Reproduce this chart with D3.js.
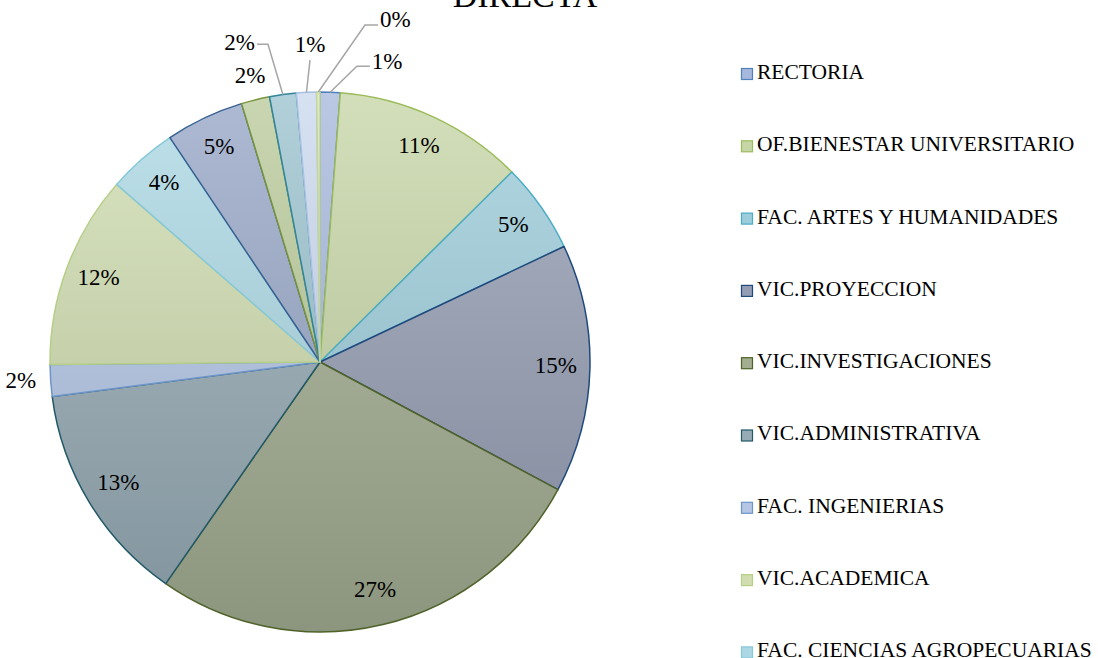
<!DOCTYPE html>
<html>
<head>
<meta charset="utf-8">
<script src="https://cdn.jsdelivr.net/npm/d3@7"></script>
<style>
  body { margin: 0; background: #fff; }
  text { font-family: "Liberation Serif", "Times New Roman", serif; fill: #000; }
</style>
</head>
<body>
<svg id="chart"></svg>
<script>
// data
var categories = [
  "RECTORIA",
  "OF.BIENESTAR UNIVERSITARIO",
  "FAC. ARTES Y HUMANIDADES",
  "VIC.PROYECCION",
  "VIC.INVESTIGACIONES",
  "VIC.ADMINISTRATIVA",
  "FAC. INGENIERIAS",
  "VIC.ACADEMICA",
  "FAC. CIENCIAS AGROPECUARIAS",
  "FAC. CIENCIAS ECONOMICAS",
  "FAC. CIENCIAS DE LA SALUD",
  "FAC. EDUCACION",
  "FAC. CIENCIAS CONTABLES",
  "SECRETARIA GENERAL"
];
var values = [1.2, 11.4, 5.4, 14.9, 26.9, 13.3, 1.9, 11.6, 4.2, 4.7, 1.7, 1.6, 1.2, 0.2];
var title = "DIRECTA";

// slice fill / outline colours
var fills   = ["#a6b8dc", "#c6d6a6", "#9ccddb", "#949db3", "#a3ad91", "#96abb5", "#b3c6e6",
               "#cfddb0", "#acd8e4", "#97a6c7", "#bacb9b", "#9bc3ce", "#cad8ee", "#d6e4be"];
var strokes = ["#4f81bd", "#9bbb59", "#4bacc6", "#1f497d", "#4f6228", "#215968", "#6d95c9",
               "#b5cf86", "#86c8d9", "#366092", "#77933c", "#31859c", "#a9c1e2", "#c3d69b"];

var width = 1098, height = 658;
var cx = 320, cy = 362, radius = 270;

// how each data label is placed (Excel "best fit" look)
var outsideLabels = { 6: 300, 10: 293 };
var leaderLabels = {
  11: { a: -9.3, r: 322, side: "left" },
  12: { a: -1.9, r: 302, side: "up" },
  13: { a: 7.6,  r: 340, side: "right" },
  0:  { a: 7.1,  r: 298, side: "right" }
};

var svg = d3.select("#chart")
  .attr("width", width)
  .attr("height", height);

var total = d3.sum(values);
var pct = function(v) { return Math.round(v / total * 100) + "%"; };

var defs = svg.append("defs");
fills.forEach(function(c, i) {
  var g = defs.append("linearGradient")
    .attr("id", "grad_" + i)
    .attr("gradientUnits", "userSpaceOnUse")
    .attr("x1", 0).attr("x2", 0)
    .attr("y1", -radius).attr("y2", radius);
  g.append("stop").attr("offset", "0%").attr("stop-color", d3.interpolateRgb(c, "#ffffff")(0.22));
  g.append("stop").attr("offset", "100%").attr("stop-color", d3.interpolateRgb(c, "#000000")(0.14));
});

var pie = d3.pie().sort(null).value(function(d) { return d; });
var arcs = pie(values);
var arc = d3.arc().innerRadius(0).outerRadius(radius);

var pieG = svg.append("g").attr("transform", "translate(" + cx + "," + cy + ")");

pieG.selectAll("path.slice")
  .data(arcs)
  .enter().append("path")
  .attr("class", "slice")
  .attr("d", arc)
  .attr("fill", function(d, i) { return "url(#grad_" + i + ")"; })
  .attr("stroke", function(d, i) { return strokes[i]; })
  .attr("stroke-width", 1.5)
  .attr("stroke-linejoin", "round");

function polar(angleRad, r) {
  return [r * Math.sin(angleRad), -r * Math.cos(angleRad)];
}

var labelG = pieG.append("g");

arcs.forEach(function(d, i) {
  var mid = (d.startAngle + d.endAngle) / 2;
  var txt = pct(d.value);
  if (leaderLabels[i]) {
    var L = leaderLabels[i];
    var p0 = polar(mid, radius);
    var p1 = polar(L.a * Math.PI / 180, L.r);
    var pts, tx, ty, anchor;
    if (L.side === "left") {
      pts = [p0, p1, [p1[0] - 11, p1[1]]];
      tx = p1[0] - 13; ty = p1[1]; anchor = "end";
    } else if (L.side === "right") {
      pts = [p0, p1, [p1[0] + 13, p1[1]]];
      tx = p1[0] + 15; ty = p1[1] - 3; anchor = "start";
    } else {
      pts = [p0, p1];
      tx = p1[0]; ty = p1[1] - 13; anchor = "middle";
    }
    labelG.append("path")
      .attr("d", d3.line()(pts))
      .attr("fill", "none")
      .attr("stroke", "#a6a6a6")
      .attr("stroke-width", 1.5);
    labelG.append("text")
      .attr("x", tx).attr("y", ty)
      .attr("text-anchor", anchor)
      .attr("dominant-baseline", "middle")
      .style("font-size", "23px")
      .text(txt);
  } else {
    var r = outsideLabels[i] || 236;
    var p = polar(mid, r);
    labelG.append("text")
      .attr("x", p[0]).attr("y", p[1])
      .attr("text-anchor", "middle")
      .attr("dominant-baseline", "middle")
      .style("font-size", "23px")
      .text(txt);
  }
});

// title, cut off at the top as in the source
svg.append("text")
  .attr("x", 525)
  .attr("y", 7)
  .attr("text-anchor", "middle")
  .style("font-size", "34px")
  .text(title);

// legend (only the entries that fit in the frame, as in the source)
var legendY = d3.scalePoint()
  .domain(d3.range(categories.length))
  .range([74, 74 + 72.3 * (categories.length - 1)]);

var shown = d3.range(categories.length).filter(function(i) { return legendY(i) < height; });

var legend = svg.append("g").selectAll("g")
  .data(shown)
  .enter().append("g")
  .attr("transform", function(i) { return "translate(741," + legendY(i) + ")"; });

legend.append("rect")
  .attr("x", 0.5).attr("y", -5.5)
  .attr("width", 11).attr("height", 11)
  .attr("fill", function(i) { return fills[i]; })
  .attr("stroke", function(i) { return strokes[i]; })
  .attr("stroke-width", 1.2);

legend.append("text")
  .attr("x", 16)
  .attr("y", 0)
  .attr("dominant-baseline", "middle")
  .style("font-size", "21.5px")
  .text(function(i) { return categories[i]; });
</script>
</body>
</html>
